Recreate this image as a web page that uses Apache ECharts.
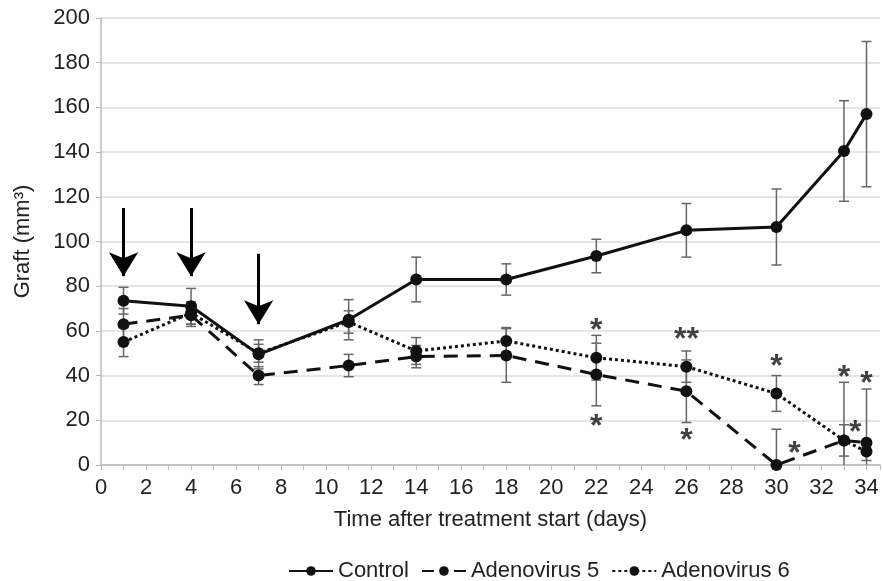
<!DOCTYPE html>
<html>
<head>
<meta charset="utf-8">
<title>Graft volume</title>
<script src="https://cdn.jsdelivr.net/npm/echarts@6/dist/echarts.min.js"></script>
<style>
  html, body { margin: 0; padding: 0; background: #fff; }
  #chart { width: 883px; height: 581px; }
</style>
</head>
<body>
<div id="chart"></div>
<script>
// days after treatment start
var days = [1, 4, 7, 11, 14, 18, 22, 26, 30, 33, 34];
var yTicks = [0, 20, 40, 60, 80, 100, 120, 140, 160, 180, 200];

var control = [73.5, 71, 49.5, 65, 83, 83, 93.5, 105, 106.5, 140.5, 157];
var controlErr = [6, 8, 6.5, 9, 10, 7, 7.5, 12, 17, 22.5, 32.5];
var adv5 = [63, 67, 40, 44.5, 48.5, 49, 40.5, 33, 0, 11, 10];
var adv5Err = [7, 5, 4, 5, 5, 12, 14, 14, 16, 26, 24];
var adv6 = [55, 68, 50, 64, 51, 55.5, 48, 44, 32, 11, 6];
var adv6Err = [6.5, 5, 4, 5, 6, 6, 10, 7, 8, 7, 4];

// significance marks [day, value, text]
var stars = [
  [22, 62, '*'], [22, 19, '*'], [26, 58, '**'], [26, 13, '*'],
  [30, 46, '*'], [30.8, 7, '*'], [33, 41, '*'], [33.5, 16.5, '*'],
  [34, 38.5, '*'], [34.7, 3.5, '*']
];
// injection arrows [day, from, to]
var arrows = [[1, 115, 84.5], [4, 115, 84.5], [7, 94.5, 63]];

var FONT = '"Liberation Sans", Arial, sans-serif';

function pairs(vals) {
  return days.map(function (d, i) { return [d, vals[i]]; });
}
function errData(vals, errs) {
  return days.map(function (d, i) { return [d, vals[i] - errs[i], vals[i] + errs[i]]; });
}
function errSeries(vals, errs) {
  return {
    type: 'custom',
    clip: true,
    silent: true,
    z: 1,
    data: errData(vals, errs),
    renderItem: function (params, api) {
      var lo = api.coord([api.value(0), api.value(1)]);
      var hi = api.coord([api.value(0), api.value(2)]);
      var w = 5;
      var st = { stroke: '#666', lineWidth: 1.5 };
      return {
        type: 'group',
        children: [
          { type: 'line', shape: { x1: lo[0], y1: lo[1], x2: hi[0], y2: hi[1] }, style: st },
          { type: 'line', shape: { x1: lo[0] - w, y1: lo[1], x2: lo[0] + w, y2: lo[1] }, style: st },
          { type: 'line', shape: { x1: hi[0] - w, y1: hi[1], x2: hi[0] + w, y2: hi[1] }, style: st }
        ]
      };
    }
  };
}
function lineSeries(name, vals, dash, width) {
  return {
    name: name,
    type: 'line',
    data: pairs(vals),
    symbol: 'circle',
    symbolSize: 12,
    z: 3,
    itemStyle: { color: '#111' },
    lineStyle: { color: '#111', width: width, type: dash },
    emphasis: { disabled: true }
  };
}

var chart = echarts.init(document.getElementById('chart'));

var ctl = lineSeries('Control', control, 'solid', 3);
ctl.markLine = {
  silent: true,
  animation: false,
  symbol: ['none', 'arrow'],
  symbolSize: [22, 24],
  label: { show: false },
  lineStyle: { color: '#000', width: 3, type: 'solid' },
  data: arrows.map(function (a) {
    return [{ coord: [a[0], a[1]] }, { coord: [a[0], a[2]] }];
  })
};

var option = {
  animation: false,
  textStyle: { fontFamily: FONT, color: '#222' },
  grid: { left: 101, right: 3, top: 18, bottom: 116 },
  xAxis: {
    type: 'value',
    min: 0,
    max: 34.6,
    interval: 1,
    name: 'Time after treatment start (days)',
    nameLocation: 'middle',
    nameGap: 44,
    nameTextStyle: { fontSize: 22, fontFamily: FONT, color: '#222' },
    axisLine: { lineStyle: { color: '#bbb', width: 1.5 } },
    axisTick: { show: true, length: 5, lineStyle: { color: '#bbb' } },
    axisLabel: {
      fontSize: 22, fontFamily: FONT, color: '#222', margin: 12,
      formatter: function (v) { return v % 2 === 0 ? String(v) : ''; }
    },
    splitLine: { show: false }
  },
  yAxis: {
    type: 'value',
    min: yTicks[0],
    max: yTicks[yTicks.length - 1],
    interval: yTicks[1] - yTicks[0],
    name: 'Graft (mm³)',
    nameLocation: 'middle',
    nameGap: 67,
    nameTextStyle: { fontSize: 22, fontFamily: FONT, color: '#222' },
    axisLine: { show: true, lineStyle: { color: '#bbb', width: 1.5 } },
    axisTick: { show: true, length: 5, lineStyle: { color: '#bbb' } },
    axisLabel: { fontSize: 22, fontFamily: FONT, color: '#222', margin: 11 },
    splitLine: { lineStyle: { color: '#ddd', width: 1.5 } }
  },
  legend: {
    data: [
      { name: 'Control' },
      { name: 'Adenovirus 5', lineStyle: { type: [12, 20] } },
      { name: 'Adenovirus 6' }
    ],
    top: 555,
    left: 283,
    itemWidth: 44,
    itemHeight: 12,
    itemGap: 12,
    textStyle: { fontSize: 22, fontFamily: FONT, color: '#222' }
  },
  series: [
    errSeries(control, controlErr),
    errSeries(adv5, adv5Err),
    errSeries(adv6, adv6Err),
    ctl,
    lineSeries('Adenovirus 5', adv5, [14, 9], 3),
    lineSeries('Adenovirus 6', adv6, [3, 3], 3),
    {
      type: 'scatter',
      silent: true,
      symbolSize: 0,
      z: 4,
      data: stars,
      label: {
        show: true,
        position: 'inside',
        offset: [0, 5],
        fontSize: 32,
        fontWeight: 'bold',
        fontFamily: FONT,
        color: '#111',
        formatter: function (p) { return p.data[2]; }
      }
    }
  ]
};

chart.setOption(option);
</script>
</body>
</html>
